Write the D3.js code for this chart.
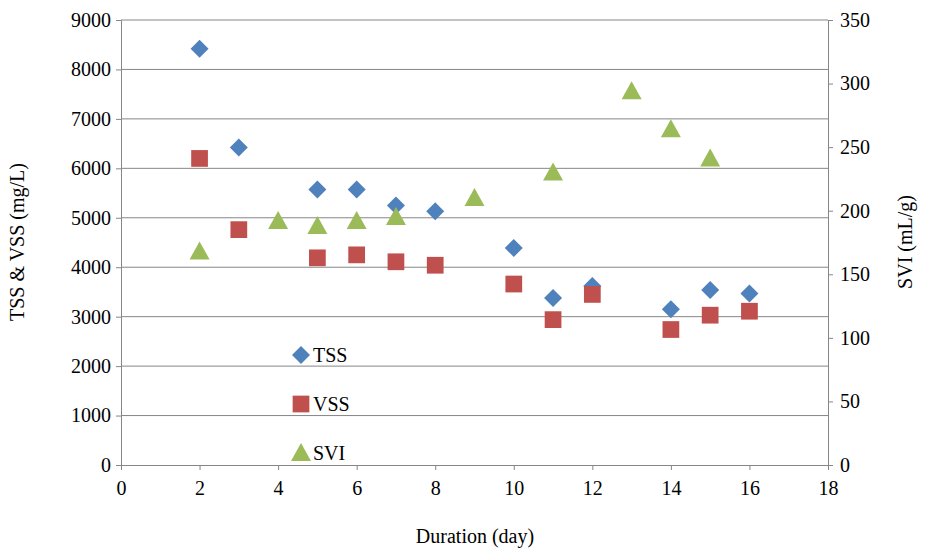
<!DOCTYPE html><html><head><script src="https://cdn.jsdelivr.net/npm/d3@7"></script>
<style>body{margin:0;background:#fff}svg text{font-family:'Liberation Serif','Times New Roman',serif !important;font-size:20px;fill:#000}</style></head><body>
<svg id="c" width="936" height="551"></svg>
<script>
const tssX=[2,3,5,6,7,8,10,11,12,14,15,16];
const tssY=[8420,6420,5570,5570,5250,5130,4390,3380,3620,3150,3540,3470];
const vssX=[2,3,5,6,7,8,10,11,12,14,15,16];
const vssY=[6200,4760,4190,4250,4110,4040,3660,2940,3450,2740,3030,3110];
const sviX=[2,4,5,6,7,9,11,13,14,15];
const sviY=[168,192,188,192,195,210,230,294,264,241];
const svg=d3.select("#c");
const x=d3.scaleLinear([0,18],[121,828]);
const yL=d3.scaleLinear([0,9000],[465,20]);
const yR=d3.scaleLinear([0,350],[465,20]);
const g=svg.append("g");
yL.ticks(9).forEach(t=>{if(t>0)g.append("line").attr("x1",121).attr("x2",828).attr("y1",yL(t)).attr("y2",yL(t)).attr("stroke","#868686");});
const ax=svg.append("g").attr("transform","translate(0,465)").call(d3.axisBottom(x).ticks(9).tickSizeOuter(0).tickSize(5));
const al=svg.append("g").attr("transform","translate(121,0)").call(d3.axisLeft(yL).ticks(9).tickFormat(d3.format("d")).tickSizeOuter(0).tickSize(5));
const ar=svg.append("g").attr("transform","translate(828,0)").call(d3.axisRight(yR).ticks(7).tickSizeOuter(0).tickSize(5));
[ax,al,ar].forEach(a=>{a.attr("font-family",null).attr("font-size",null);a.selectAll("path,line").attr("stroke","#868686");a.selectAll("text").attr("fill","#000").attr("style","font-family:'Liberation Serif',serif;font-size:20px");});
ax.selectAll("text").attr("y",14).attr("dy","0.8em");
al.selectAll("text").attr("x",-10);
ar.selectAll("text").attr("x",12);
const dia="M0,-9L9,0L0,9L-9,0Z", sq=d3.symbol(d3.symbolSquare,280)(), tri="M0,-10L10,8L-10,8Z";
function pts(xs,ys,ys2,path,col){xs.forEach((v,i)=>svg.append("path").attr("d",path).attr("fill",col).attr("transform",`translate(${x(v)},${ys2(ys[i])})`));}
pts(tssX,tssY,yL,dia,"#4F81BD");pts(vssX,vssY,yL,sq,"#C0504D");pts(sviX,sviY,yR,tri,"#9BBB59");
[[dia,"#4F81BD","TSS",355],[sq,"#C0504D","VSS",404],[tri,"#9BBB59","SVI",453]].forEach(([p,c,l,yy])=>{
svg.append("path").attr("d",p).attr("fill",c).attr("transform",`translate(301,${yy})`);
svg.append("text").attr("x",313).attr("y",yy+7).text(l);});
svg.append("text").attr("x",475).attr("y",543).attr("text-anchor","middle").text("Duration (day)");
svg.append("text").attr("transform","translate(24,242) rotate(-90)").attr("text-anchor","middle").text("TSS & VSS (mg/L)");
svg.append("text").attr("transform","translate(912,242) rotate(-90)").attr("text-anchor","middle").text("SVI (mL/g)");
</script></body></html>
